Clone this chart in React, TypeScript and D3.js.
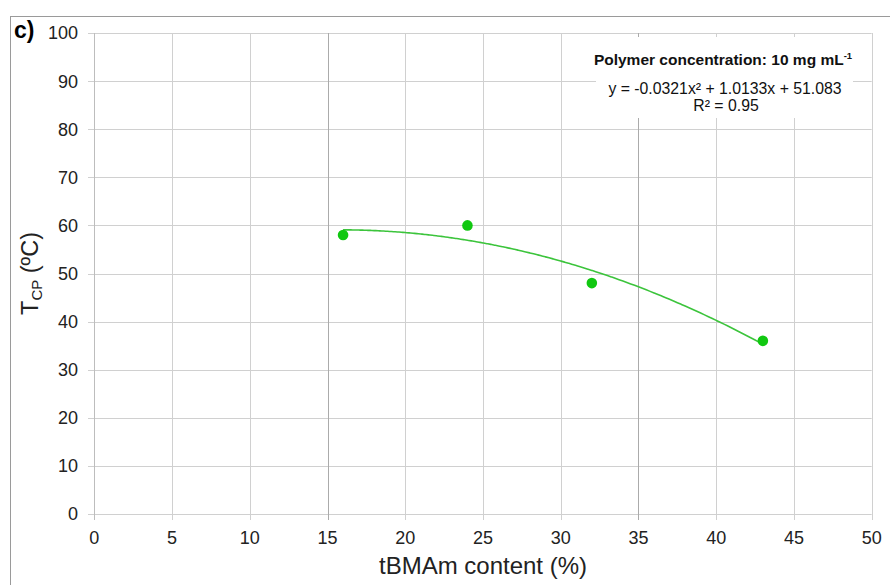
import React from "react";
import * as d3 from "d3";

const xTicks = [0, 5, 10, 15, 20, 25, 30, 35, 40, 45, 50];
const yTicks = [0, 10, 20, 30, 40, 50, 60, 70, 80, 90, 100];
const darkVertical = [15, 35];
const tbmamContent = [16, 24, 32, 43];
const tcpValues = [58, 60, 48, 36];
const fitCoefficients = [-0.0321, 1.0133, 51.083];
const fitRange = [16, 43];
const annotationTitle = "Polymer concentration: 10 mg mL";
const equationText = "y = -0.0321x² + 1.0133x + 51.083";
const r2Text = "R² = 0.95";

export default function App() {
  const W = 890, H = 585;
  const x = d3.scaleLinear().domain([0, 50]).range([94.3, 871.7]);
  const y = d3.scaleLinear().domain([0, 100]).range([514, 33]);
  const font = "'Liberation Sans', Arial, sans-serif";
  const [a, b, c] = fitCoefficients;
  const fitXs = d3.range(fitRange[0], fitRange[1] + 0.001, 0.25);
  const line = d3
    .line<number>()
    .x((d) => x(d))
    .y((d) => y(a * d * d + b * d + c))
    .curve(d3.curveMonotoneX);
  const pts = tbmamContent.map((v, i) => ({ x: v, y: tcpValues[i] }));
  const light = "#d0d0d0";
  const dark = "#ababab";
  return (
    <svg
      width={W}
      height={H}
      style={{ position: "absolute", left: 0, top: 0, background: "#fff" }}
    >
      <rect x={0} y={0} width={W} height={H} fill="#fff" />
      <rect x={10.5} y={16.5} width={900} height={600} fill="none" stroke="#9a9a9a" strokeWidth={1} />
      {yTicks.map((t) => (
        <line key={"h" + t} x1={88} x2={x(50)} y1={Math.round(y(t)) + 0.5} y2={Math.round(y(t)) + 0.5} stroke={light} strokeWidth={1} />
      ))}
      {xTicks.map((t) => (
        <line
          key={"v" + t}
          x1={Math.round(x(t)) + 0.5}
          x2={Math.round(x(t)) + 0.5}
          y1={y(100)}
          y2={520}
          stroke={darkVertical.includes(t) ? dark : t === 0 ? "#bdbdbd" : light}
          strokeWidth={1}
        />
      ))}
      <rect x={596} y={37} width={257} height={81} fill="#fff" />
      <text x={723} y={65} textAnchor="middle" fontFamily={font} fontWeight="bold" fontSize={15.5} fill="#111">
        {annotationTitle}
        <tspan fontSize={9.5} dy={-6}>-1</tspan>
      </text>
      <text x={725} y={94} textAnchor="middle" fontFamily={font} fontSize={15.8} fill="#111">
        {equationText}
      </text>
      <text x={726} y={111} textAnchor="middle" fontFamily={font} fontSize={15.8} fill="#111">
        {r2Text}
      </text>
      <path d={line(fitXs) || ""} fill="none" stroke="#3cc43c" strokeWidth={1.6} />
      {pts.map((p, i) => (
        <circle key={i} cx={x(p.x)} cy={y(p.y)} r={5.3} fill="#11c811" />
      ))}
      {yTicks.map((t) => (
        <text key={"yl" + t} x={78} y={y(t) + 6.4} textAnchor="end" fontFamily={font} fontSize={18} fill="#222">
          {t}
        </text>
      ))}
      {xTicks.map((t) => (
        <text key={"xl" + t} x={x(t)} y={544} textAnchor="middle" fontFamily={font} fontSize={18} fill="#222">
          {t}
        </text>
      ))}
      <text x={483} y={574} textAnchor="middle" fontFamily={font} fontSize={24} fill="#222">
        tBMAm content (%)
      </text>
      <text
        transform={`translate(38, ${(y(0) + y(100)) / 2}) rotate(-90)`}
        textAnchor="middle"
        fontFamily={font}
        fontSize={23.5}
        fill="#222"
      >
        T<tspan fontSize={15} dy={4}>CP</tspan>
        <tspan dy={-4}> (ºC)</tspan>
      </text>
      <text x={14} y={38} fontFamily={font} fontWeight="bold" fontSize={23} fill="#000">
        c)
      </text>
    </svg>
  );
}
